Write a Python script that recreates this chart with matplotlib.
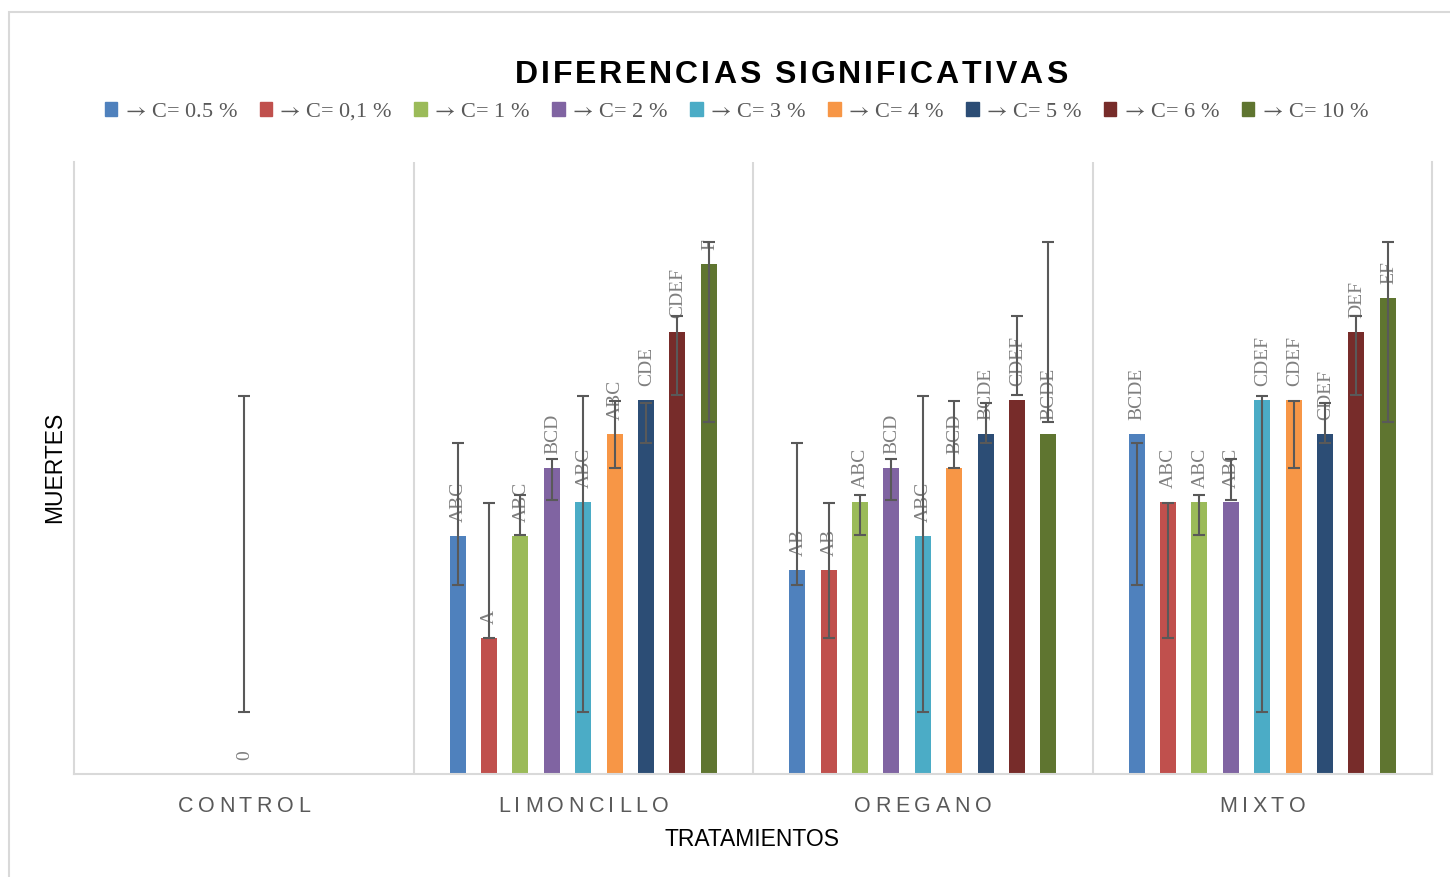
import matplotlib
matplotlib.use('Agg')
import matplotlib.pyplot as plt
import numpy as np
from matplotlib import font_manager
from matplotlib.ft2font import FT2Font
from matplotlib.patches import Patch, Rectangle

W, H, DPI = 1450, 877, 100
plt.rcParams['mathtext.fontset'] = 'stix'

categories = ['CONTROL', 'LIMONCILLO', 'OREGANO', 'MIXTO']
concentrations = ['0.5', '0,1', '1', '2', '3', '4', '5', '6', '10']
series = [r'$\rightarrow\,$C= ' + c + ' %' for c in concentrations]
colors = ['#4F81BD', '#C0504D', '#9BBB59', '#8064A2', '#4BACC6',
          '#F79646', '#2C4D75', '#772C2A', '#5F7530']

# deaths per treatment (None = not measured)
c05 = [None, 7, 6, 10]
c01 = [None, 4, 6, 8]
c1 = [None, 7, 8, 8]
c2 = [None, 9, 9, 8]
c3 = [0, 8, 7, 11]
c4 = [None, 10, 9, 11]
c5 = [None, 11, 10, 10]
c6 = [None, 13, 11, 13]
c10 = [None, 15, 10, 14]
values = [c05, c01, c1, c2, c3, c4, c5, c6, c10]

# significance letters
l05 = [None, 'ABC', 'AB', 'BCDE']
l01 = [None, 'A', 'AB', 'ABC']
l1 = [None, 'ABC', 'ABC', 'ABC']
l2 = [None, 'BCD', 'BCD', 'ABC']
l3 = ['0', 'ABC', 'ABC', 'CDEF']
l4 = [None, 'ABC', 'BCD', 'CDEF']
l5 = [None, 'CDE', 'BCDE', 'CDEF']
l6 = [None, 'CDEF', 'CDEF', 'DEF']
l10 = [None, 'F', 'BCDE', 'EF']
letters = [l05, l01, l1, l2, l3, l4, l5, l6, l10]

# error bar ends for each series
err_low = [5.56, 4.0, 7.03, 8.06, 1.82, 9.0, 9.74, 11.15, 10.34]
err_high = [9.74, 7.98, 8.2, 9.26, 11.12, 10.97, 10.9, 13.47, 15.64]

GRID = '#D9D9D9'
SERIF = ['Liberation Serif', 'DejaVu Serif']
SANS = ['Liberation Sans', 'DejaVu Sans']

fig = plt.figure(figsize=(W / DPI, H / DPI), dpi=DPI)
ax = fig.add_axes([74 / W, 1 - 774 / H, (1432 - 74) / W, (774 - 162) / H])

step = 0.0925
width = 0.047
x = np.arange(len(categories))
for i, (vals, labs) in enumerate(zip(values, letters)):
    xs = x + (i - 4) * step
    v = np.array([np.nan if a is None else a for a in vals], dtype=float)
    ax.bar(xs, v, width, color=colors[i], zorder=2)
    ok = ~np.isnan(v)
    mid = (err_low[i] + err_high[i]) / 2
    half = (err_high[i] - err_low[i]) / 2
    ax.errorbar(xs[ok], np.full(ok.sum(), mid), yerr=half, fmt='none',
                ecolor='#595959', elinewidth=1.5, capsize=4.3, capthick=1.5,
                zorder=4)
    for xi, vi, lab in zip(xs, v, labs):
        if lab is None:
            continue
        ax.annotate(lab, (xi, vi), xytext=(0.5, 10), textcoords='offset points',
                    rotation=90, ha='center', va='bottom', color='#7F7F7F',
                    family=SERIF, fontsize=14, zorder=3)

ax.set_xlim(-0.5, 3.5)
ax.set_ylim(0, 18)
for b in [0.5, 1.5, 2.5]:
    ax.axvline(b, color=GRID, lw=1.5, zorder=1)
for s in ['left', 'right', 'bottom']:
    ax.spines[s].set_color(GRID)
    ax.spines[s].set_linewidth(1.5)
ax.spines['top'].set_visible(False)
ax.set_xticks([])
ax.set_yticks([])


def tracked_text(cx, baseline, s, size, spacing, family, weight='normal',
                 color='black'):
    prop = font_manager.FontProperties(family=family, weight=weight, size=size)
    font = FT2Font(font_manager.findfont(prop))
    font.set_size(size, DPI)
    adv = [font.load_char(ord(ch)).linearHoriAdvance / 65536 for ch in s]
    total = sum(adv) + spacing * (len(s) - 1)
    pos = cx - total / 2
    for ch, a in zip(s, adv):
        if ch != ' ':
            fig.text((pos + a / 2) / W, 1 - baseline / H, ch,
                     fontproperties=prop, color=color, ha='center',
                     va='baseline')
        pos += a + spacing


tracked_text(791, 83, 'DIFERENCIAS SIGNIFICATIVAS', 23, 2.8,
             'Liberation Sans', weight='bold')
for i, cat in enumerate(categories):
    cx = ax.transData.transform((i, 0))[0]
    tracked_text(cx, 812, cat, 15.5, 4.5, 'Liberation Sans', color='#595959')

fig.text(752 / W, 1 - 839 / H, 'TRATAMIENTOS', ha='center', va='center',
         family=SANS, fontsize=16.5)
fig.text(55 / W, 1 - 467 / H, 'MUERTES', rotation=90, ha='center',
         va='center', family=SANS, fontsize=16.5)

handles = [Patch(color=c) for c in colors]
fig.legend(handles, series, ncol=9, loc='center left',
           bbox_to_anchor=(105 / W, 1 - 112 / H), frameon=False,
           prop={'family': SERIF, 'size': 16}, labelcolor='#595959',
           handlelength=0.55, handleheight=0.55, handletextpad=0.2,
           columnspacing=1.0, borderaxespad=0, borderpad=0)

fig.patches.append(Rectangle((9 / W, -0.1), 1.2, 1.1 - 12 / H,
                             transform=fig.transFigure, fill=False,
                             edgecolor=GRID, lw=1.5))

fig.savefig('out.png', dpi=DPI)
